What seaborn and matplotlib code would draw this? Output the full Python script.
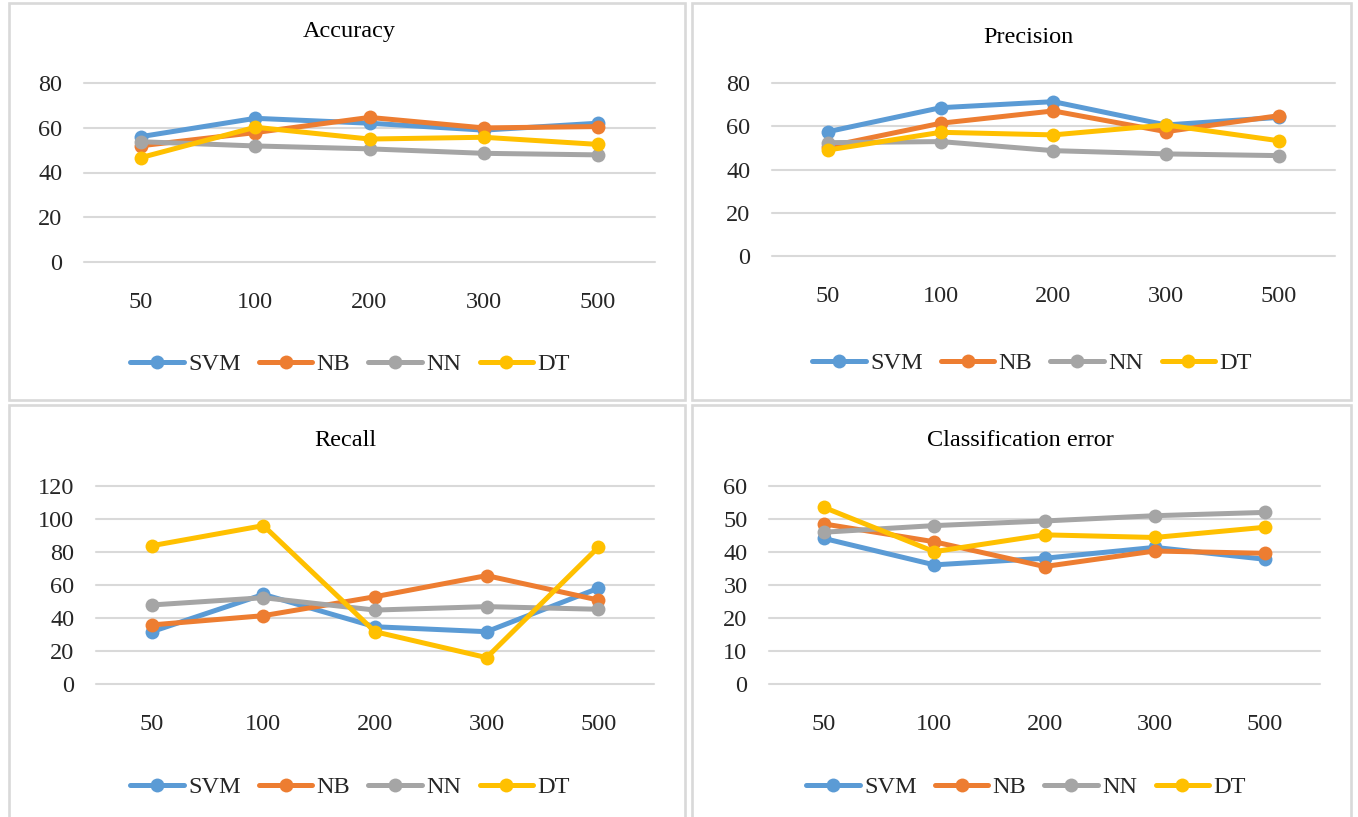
import matplotlib
matplotlib.use("Agg")
import matplotlib.pyplot as plt
from matplotlib.lines import Line2D
from matplotlib.patches import Rectangle
import pandas as pd
import seaborn as sns

# Training-set sizes (categories) and classifiers (series)
sizes = ["50", "100", "200", "300", "500"]
models = ["SVM", "NB", "NN", "DT"]
colors = {"SVM": "#5B9BD5", "NB": "#ED7D31", "NN": "#A5A5A5", "DT": "#FFC000"}

# Accuracy
accuracy_svm = [56.1, 64.3, 62.1, 59.0, 62.1]
accuracy_nb = [52.0, 57.9, 64.7, 60.0, 60.6]
accuracy_nn = [53.8, 51.9, 50.6, 48.6, 47.9]
accuracy_dt = [46.7, 60.3, 55.0, 55.8, 52.6]

# Precision
precision_svm = [57.6, 68.7, 71.5, 60.7, 64.2]
precision_nb = [50.7, 61.5, 67.2, 57.6, 65.0]
precision_nn = [52.5, 53.0, 48.8, 47.3, 46.5]
precision_dt = [49.1, 57.3, 56.1, 60.7, 53.4]

# Recall
recall_svm = [31.7, 54.3, 34.7, 31.7, 58.0]
recall_nb = [35.8, 41.4, 52.9, 65.7, 50.9]
recall_nn = [47.9, 52.3, 44.8, 46.9, 45.3]
recall_dt = [83.8, 96.0, 31.7, 16.0, 82.8]

# Classification error
error_svm = [44.1, 36.1, 38.1, 41.4, 37.8]
error_nb = [48.5, 43.1, 35.6, 40.3, 39.6]
error_nn = [46.0, 48.0, 49.4, 51.0, 52.0]
error_dt = [53.5, 40.1, 45.2, 44.4, 47.5]

titles = ["Accuracy", "Precision", "Recall", "Classification error"]
series = [
    [accuracy_svm, accuracy_nb, accuracy_nn, accuracy_dt],
    [precision_svm, precision_nb, precision_nn, precision_dt],
    [recall_svm, recall_nb, recall_nn, recall_dt],
    [error_svm, error_nb, error_nn, error_dt],
]
y_ticks = [
    [0, 20, 40, 60, 80],
    [0, 20, 40, 60, 80],
    [0, 20, 40, 60, 80, 100, 120],
    [0, 10, 20, 30, 40, 50, 60],
]

W, H = 1358, 817
sns.set_theme(style="white")
plt.rcParams["font.family"] = ["Liberation Serif", "DejaVu Serif"]

fig = plt.figure(figsize=(W / 100, H / 100), dpi=100)
fig.patch.set_facecolor("white")


def rect(x0, y0, x1, y1):
    return [x0 / W, 1 - y1 / H, (x1 - x0) / W, (y1 - y0) / H]


# pixel layout per panel: frame, plot area, title anchor, legend anchor
layout = [
    dict(frame=(8.5, 3, 684.5, 399.5), plot=(84, 83.3, 655, 261.7),
         title=(349, 31), legend=(350, 364)),
    dict(frame=(692, 3, 1351, 399.5), plot=(771.7, 83.3, 1335, 256),
         title=(1028, 37.5), legend=(1032, 363)),
    dict(frame=(8.5, 404.7, 684.5, 830), plot=(96, 486, 654, 684),
         title=(345, 441), legend=(350, 787)),
    dict(frame=(692, 404.7, 1351, 830), plot=(769, 486, 1320, 684),
         title=(1020, 441), legend=(1026, 787)),
]

grid_color = "#D9D9D9"
fs = 17.5
lw = 3.6
ms = 10

for title, vals, ticks, lay in zip(titles, series, y_ticks, layout):
    fx0, fy0, fx1, fy1 = lay["frame"]
    fig.patches.append(Rectangle((fx0 / W, 1 - fy1 / H), (fx1 - fx0) / W, (fy1 - fy0) / H,
                                 transform=fig.transFigure, fill=False,
                                 edgecolor=grid_color, linewidth=1.9, zorder=0))

    df = pd.DataFrame({
        "size": sizes * len(models),
        "value": [v for s in vals for v in s],
        "model": [m for m in models for _ in sizes],
    })

    ax = fig.add_axes(rect(*lay["plot"]))
    ax.set_facecolor("none")
    sns.lineplot(data=df, x="size", y="value", hue="model", hue_order=models,
                 palette=colors, marker="o", markersize=ms, markeredgewidth=0,
                 linewidth=lw, sort=False, legend=False, ax=ax)
    ax.set_xlim(-0.5, len(sizes) - 0.5)
    ax.set_ylim(ticks[0], ticks[-1])
    ax.set_yticks(ticks)
    ax.set_xlabel("")
    ax.set_ylabel("")
    for sp in ax.spines.values():
        sp.set_visible(False)
    for t in ticks:
        ax.axhline(t, color=grid_color, linewidth=1.5, zorder=0.5, clip_on=False)
    ax.tick_params(axis="y", length=0, pad=15.5, labelsize=fs)
    ax.tick_params(axis="x", length=0, pad=21.5, labelsize=fs)

    fig.text(lay["title"][0] / W, 1 - lay["title"][1] / H, title,
             ha="center", va="center", fontsize=fs, color="#000000")

    handles = [Line2D([], [], color=colors[m], linewidth=lw, marker="o",
                      markersize=ms, markeredgewidth=0) for m in models]
    fig.legend(handles, models, loc="center",
               bbox_to_anchor=(lay["legend"][0] / W, 1 - lay["legend"][1] / H),
               ncol=4, frameon=False, fontsize=fs, handlelength=2.2,
               handletextpad=0.18, columnspacing=0.75, borderpad=0,
               borderaxespad=0)

fig.savefig("out.png", dpi=100, facecolor="white")
